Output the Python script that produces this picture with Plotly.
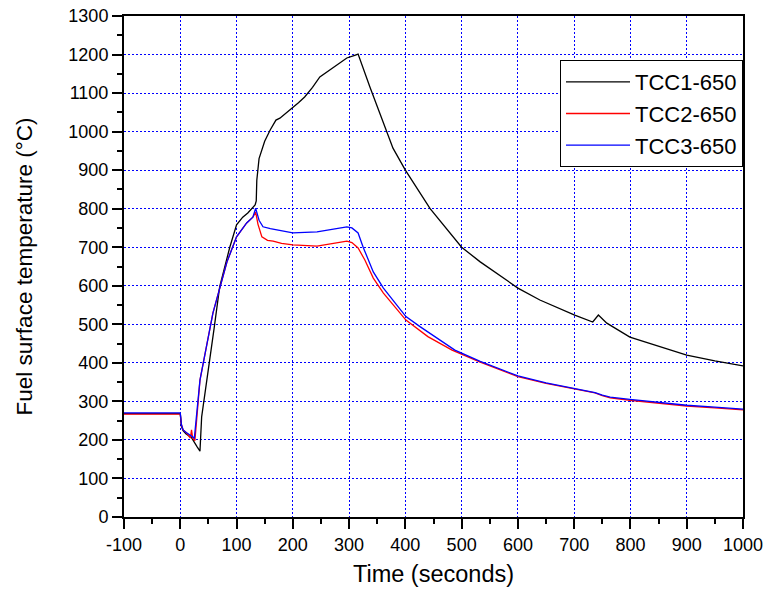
import plotly.graph_objects as go

# TCC1-650 (black)
t1_x = [-100, -50, 0, 2, 5, 10, 20, 30, 35, 38, 42, 47, 60, 70, 80, 88, 100, 106, 111, 120,
        130, 133, 135, 136, 140, 150, 160, 170, 177, 190, 200, 210, 221, 235, 248, 270, 296,
        310, 316, 337, 360, 378, 400, 444, 500, 533, 600, 639, 701, 733, 743, 758, 799, 850,
        900, 950, 1000]
t1_y = [268, 268, 268, 235, 224, 216, 206, 182, 171, 260, 300, 355, 488, 597, 655, 700, 758,
        770, 778, 789, 805, 810, 820, 874, 930, 975, 1005, 1030, 1035, 1050, 1064, 1075, 1090,
        1115, 1142, 1165, 1191, 1198, 1201, 1116, 1027, 957, 900, 800, 700, 662, 594, 563,
        524, 506, 524, 503, 467, 443, 420, 405, 392]

# TCC2-650 (red)
t2_x = [-100, -50, 0, 2, 5, 10, 15, 18, 20, 22, 26, 30, 35, 58, 83, 100, 118, 129, 134, 138,
        145, 155, 165, 180, 200, 243, 270, 296, 305, 316, 328, 343, 361, 401, 440, 483, 533,
        600, 650, 701, 737, 750, 764, 799, 850, 900, 950, 1000]
t2_y = [267, 267, 267, 240, 226, 220, 212, 205, 226, 205, 198, 270, 355, 529, 662, 727, 763,
        778, 791, 760, 727, 718, 716, 710, 706, 703, 710, 716, 712, 698, 667, 620, 581, 511,
        468, 433, 402, 364, 347, 332, 322, 315, 309, 303, 295, 288, 283, 278]

# TCC3-650 (blue)
t3_x = [-100, -50, 0, 2, 5, 10, 21, 25, 28, 32, 35, 58, 83, 100, 118, 129, 134, 140, 147, 160,
        171, 185, 200, 243, 270, 296, 305, 316, 325, 343, 361, 401, 426, 488, 533, 600, 650,
        701, 737, 750, 764, 799, 850, 900, 950, 1000]
t3_y = [270, 270, 270, 240, 226, 220, 208, 205, 250, 310, 355, 529, 662, 727, 763, 778, 801,
        770, 753, 748, 745, 740, 737, 740, 746, 753, 750, 737, 700, 636, 594, 520, 494, 433,
        404, 366, 348, 333, 323, 316, 311, 305, 297, 290, 285, 280]

names = ["TCC1-650", "TCC2-650", "TCC3-650"]
colors = ["black", "#ff0000", "#0000ff"]

x_tickvals = [-100, 0, 100, 200, 300, 400, 500, 600, 700, 800, 900, 1000]
x_ticktext = ["-100", "0", "100", "200", "300", "400", "500", "600", "700", "800", "900", "1000"]

fig = go.Figure()
for xs, ys, n, c in zip([t1_x, t2_x, t3_x], [t1_y, t2_y, t3_y], names, colors):
    fig.add_trace(go.Scatter(x=xs, y=ys, mode="lines", name=n,
                             line=dict(color=c, width=1.3)))

font = "Arial, Liberation Sans, sans-serif"
axis_common = dict(
    showline=True, linecolor="black", linewidth=2, mirror=True,
    ticks="outside", ticklen=10, tickwidth=2, tickcolor="black",
    showgrid=True, gridcolor="#0000ff", gridwidth=1, griddash="2px,2px",
    zeroline=False, automargin=False,
    tickfont=dict(family=font, size=18, color="black"),
)
minor = dict(dtick=50, ticks="outside", ticklen=5, tickwidth=2,
             tickcolor="black", showgrid=False)

fig.update_xaxes(range=[-100, 1000], tickmode="array", tickvals=x_tickvals,
                 ticktext=x_ticktext, minor=minor,
                 title=dict(text="Time (seconds)", font=dict(family=font, size=23.5, color="black"),
                            standoff=12),
                 **axis_common)
fig.update_yaxes(range=[0, 1300], dtick=100, tick0=0, minor=minor,
                 title=dict(text="Fuel surface temperature (°C)",
                            font=dict(family=font, size=22.5, color="black"), standoff=29),
                 **axis_common)

fig.update_layout(
    width=769, height=596,
    margin=dict(l=124, r=26, t=16, b=79),
    paper_bgcolor="white", plot_bgcolor="white",
    legend=dict(x=1, xanchor="right", y=0.912, yanchor="top",
                bgcolor="white", bordercolor="black", borderwidth=1,
                font=dict(family=font, size=22, color="black"),
                itemwidth=64, tracegroupgap=0),
    showlegend=True,
)

fig.write_html("out.html")
